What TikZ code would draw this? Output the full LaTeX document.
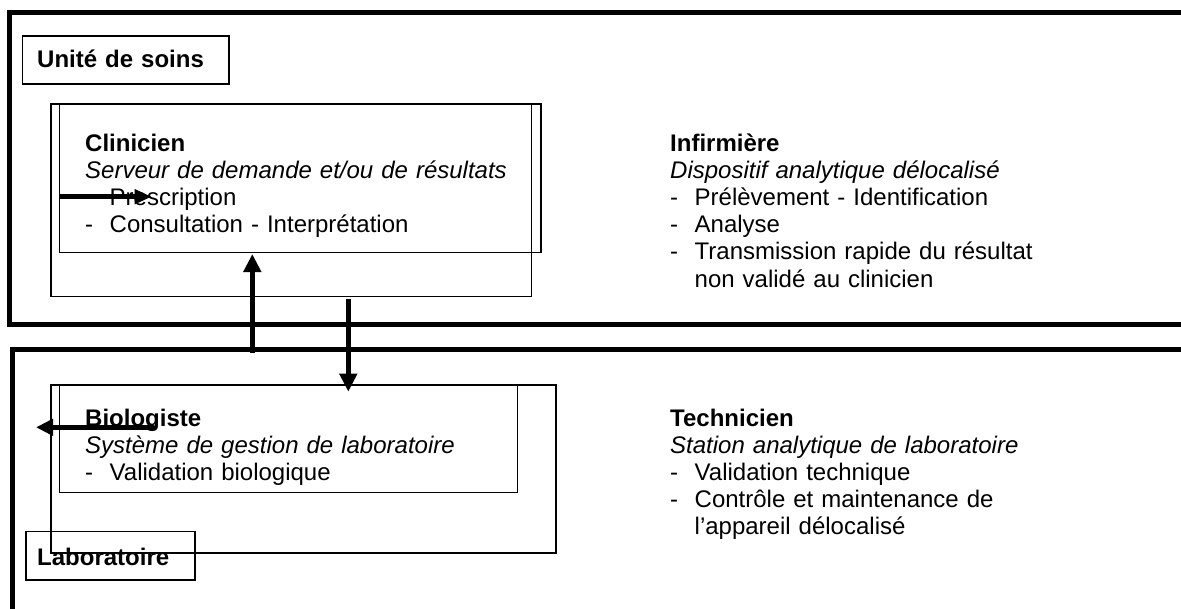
\documentclass[tikz,border=0pt]{standalone}
\usepackage{fontspec}
\setmainfont{Liberation Sans}
\usetikzlibrary{arrows.meta}
\tikzset{
  frame/.style={line width=5pt, line join=miter},
  thinbox/.style={line width=1.5pt},
  txt/.style={anchor=base west, inner sep=0pt, align=left, text width=480pt,
    font=\fontsize{24}{27.2}\selectfont},
  conn/.style={line width=5pt, -{Triangle[length=18pt,width=17pt]}},
}
\newcommand{\itm}{\makebox[24.5pt][l]{-}}
\newcommand{\cont}{\hspace*{24.5pt}}
\begin{document}
\begin{tikzpicture}[x=1pt,y=-1pt]
\useasboundingbox (0,0) rectangle (1181,608);
% outer frames
\draw[frame] (1200,12.5) -- (9.7,12.5) -- (9.7,324.5) -- (1200,324.5);
\draw[frame] (1200,349.2) -- (12.8,349.2) -- (12.8,620);
% boxes
\draw[thinbox] (22.3,36) rectangle (229,84);
\draw[thinbox] (51,104) rectangle (531.7,296.7);
\draw[thinbox] (59.3,104) rectangle (541,252.3);
\draw[thinbox] (51,385) rectangle (556,553);
\draw[thinbox] (59.3,385) rectangle (517.3,492.7);
\draw[thinbox] (26,531.7) rectangle (195,580);
% texts
\node[txt] (us) at (37,67.5) {\textbf{Unité de soins}};
\node[txt] (cl) at (85,151) {\textbf{Clinicien}\\
  \textit{Serveur de demande et/ou de résultats}\\
  \cont Prescription\\
  \itm Consultation - Interprétation};
\node[txt] (inf) at (670,151) {\textbf{Infirmière}\\
  \textit{Dispositif analytique délocalisé}\\
  \itm Prélèvement - Identification\\
  \itm Analyse\\
  \itm Transmission rapide du résultat\\
  \cont non validé au clinicien};
\node[txt] (bio) at (85,426) {\textbf{Biologiste}\\
  \textit{Système de gestion de laboratoire}\\
  \itm Validation biologique};
\node[txt] (tech) at (670,426) {\textbf{Technicien}\\
  \textit{Station analytique de laboratoire}\\
  \itm Validation technique\\
  \itm Contrôle et maintenance de\\
  \cont l’appareil délocalisé};
\node[txt] (lab) at (37,565) {\textbf{Laboratoire}};
% connectors
\coordinate (p1) at (59.3,196.7); \coordinate (p2) at (151.7,196.7);
\coordinate (u1) at (252.3,352.7); \coordinate (u2) at (252.3,254);
\coordinate (d1) at (348.3,299.3); \coordinate (d2) at (348.3,391.7);
\coordinate (l1) at (153.3,427.3); \coordinate (l2) at (36,427.3);
\draw[conn, -{Triangle[length=17pt,width=14pt]}] (p1) -- (p2);
\draw[conn] (u1) -- (u2);
\draw[conn] (d1) -- (d2);
\draw[conn, line cap=round, -{Triangle[length=17pt,width=16pt]}] (l1) -- (l2);
\end{tikzpicture}
\end{document}
